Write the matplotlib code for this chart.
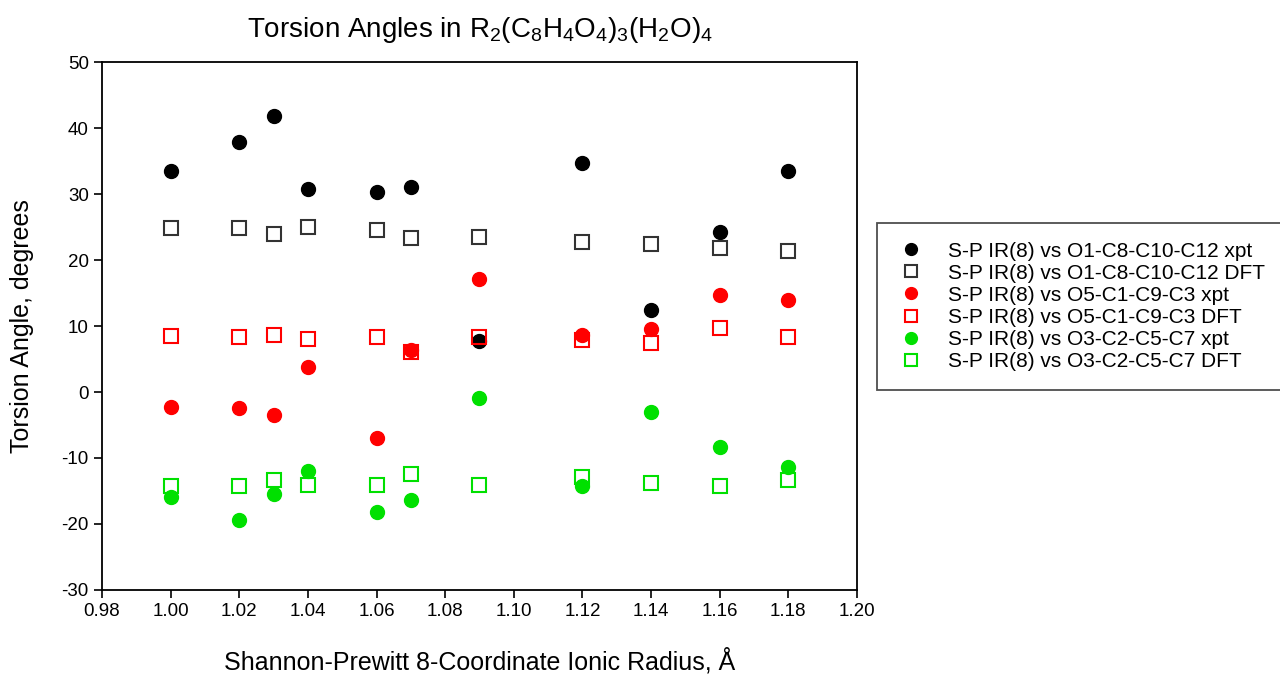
import matplotlib
matplotlib.use('Agg')
import matplotlib.pyplot as plt

plt.rcParams.update({'font.family': ['Liberation Sans', 'DejaVu Sans'],
                     'mathtext.fontset': 'custom',
                     'mathtext.rm': 'Liberation Sans',
                     'mathtext.it': 'Liberation Sans',
                     'mathtext.default': 'regular',
                     'axes.unicode_minus': False})

radius = [1.00, 1.02, 1.03, 1.04, 1.06, 1.07, 1.09, 1.12, 1.14, 1.16, 1.18]

o1_xpt = [33.5, 37.9, 41.8, 30.8, 30.3, 31.1, 7.7, 34.7, 12.4, 24.2, 33.5]
o1_dft = [24.8, 24.8, 24.0, 25.0, 24.5, 23.3, 23.5, 22.8, 22.5, 21.9, 21.4]
o5_xpt = [-2.2, -2.4, -3.5, 3.8, -6.9, 6.3, 17.1, 8.6, 9.6, 14.7, 13.9]
o5_dft = [8.5, 8.3, 8.6, 8.1, 8.4, 6.1, 8.4, 7.9, 7.4, 9.7, 8.4]
o3_xpt = [-15.9, -19.4, -15.5, -12.0, -18.2, -16.3, -0.9, -14.2, -3.0, -8.3, -11.3]
o3_dft = [-14.3, -14.3, -13.4, -14.1, -14.1, -12.4, -14.1, -12.9, -13.8, -14.3, -13.3]

series = [
    (o1_xpt, 'S-P IR(8) vs O1-C8-C10-C12 xpt', 'black', True),
    (o1_dft, 'S-P IR(8) vs O1-C8-C10-C12 DFT', '#333333', False),
    (o5_xpt, 'S-P IR(8) vs O5-C1-C9-C3 xpt', '#ff0000', True),
    (o5_dft, 'S-P IR(8) vs O5-C1-C9-C3 DFT', '#ff0000', False),
    (o3_xpt, 'S-P IR(8) vs O3-C2-C5-C7 xpt', '#00e000', True),
    (o3_dft, 'S-P IR(8) vs O3-C2-C5-C7 DFT', '#00e000', False),
]

fig = plt.figure(figsize=(12.8, 6.75), dpi=100)
ax = fig.add_axes([0.0797, 0.126, 0.5898, 0.782])

for vals, label, color, filled in series:
    if filled:
        ax.plot(radius, vals, 'o', ms=10, color=color, mec=color, label=label)
    else:
        ax.plot(radius, vals, 's', ms=9.5, mfc='none', mec=color, mew=1.5,
                label=label)

ax.set_xlim(0.98, 1.20)
ax.set_ylim(-30, 50)
ax.set_xticks([0.98 + 0.02 * i for i in range(12)])
ax.set_xticklabels(['%.2f' % (0.98 + 0.02 * i) for i in range(12)])
ax.set_yticks(range(-30, 51, 10))
ax.tick_params(direction='out', length=6, width=1.2, labelsize=13.5,
               top=False, right=False)
for s in ax.spines.values():
    s.set_linewidth(1.3)

ax.set_xlabel('Shannon-Prewitt 8-Coordinate Ionic Radius, Å', fontsize=18, labelpad=20)
ax.set_ylabel('Torsion Angle, degrees', fontsize=18, labelpad=20)
ax.set_title(r'Torsion Angles in R$_2$(C$_8$H$_4$O$_4$)$_3$(H$_2$O)$_4$',
             fontsize=20, pad=18)

leg = fig.legend(loc='upper left', bbox_to_anchor=(0.685, 0.419, 0.34, 0.251),
                 mode='expand', fontsize=15, frameon=True, fancybox=False,
                 borderpad=0.9, labelspacing=0.15, handletextpad=1.0,
                 handlelength=1.5, borderaxespad=0)
leg.get_frame().set_edgecolor('#222222')
leg.get_frame().set_linewidth(1.3)
for h in leg.legend_handles:
    h.set_markersize(8.5)

fig.savefig('out.png', dpi=100)
